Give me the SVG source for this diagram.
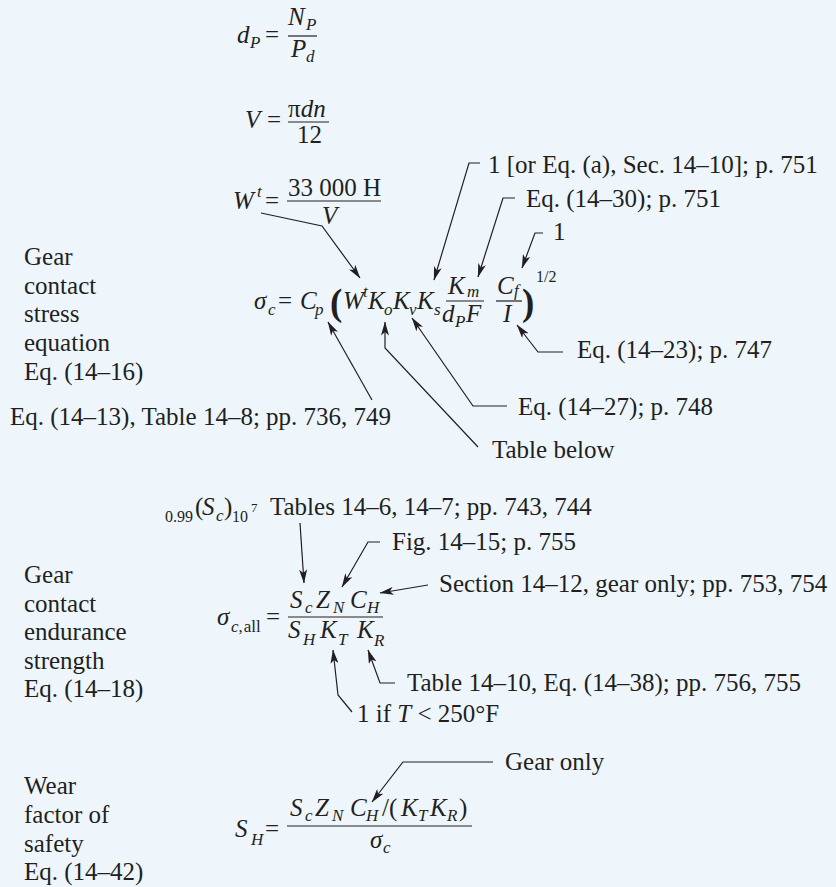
<svg xmlns="http://www.w3.org/2000/svg" width="836" height="887" viewBox="0 0 836 887">
<style>
.t{font-family:"Liberation Serif","Times New Roman",serif;font-size:25px;fill:#231f20}
.m{font-style:italic}
.sb{font-size:17px}
.sm{font-size:16px}
.xs{font-size:13px}
.big{font-size:37px}
.bar{stroke:#231f20;stroke-width:1.2}
.ld{fill:none;stroke:#231f20;stroke-width:1.2;marker-end:url(#ah)}
</style>
<defs>
<marker id="ah" viewBox="0 0 14 8" refX="13.5" refY="4" markerWidth="14" markerHeight="8" markerUnits="userSpaceOnUse" orient="auto">
<path d="M0,0 L14,4 L0,8 L3.5,4 z" fill="#231f20"/>
</marker>
</defs>
<rect width="836" height="887" fill="#eef6fc"/>

<g id="eq-dp">
<text class="t m" x="237" y="43">d</text><text class="t m sb" x="250" y="48">P</text>
<text class="t" x="265" y="43">=</text>
<text class="t m" x="288" y="25">N</text><text class="t m sb" x="306" y="30">P</text>
<line class="bar" x1="288" y1="36" x2="317" y2="36"/>
<text class="t m" x="291" y="57">P</text><text class="t m sb" x="306" y="62">d</text>
</g>

<g id="eq-v">
<text class="t m" x="245" y="128">V</text>
<text class="t" x="267" y="128">=</text>
<text class="t" x="288" y="117">π<tspan class="m">dn</tspan></text>
<line class="bar" x1="288" y1="122" x2="329" y2="122"/>
<text class="t" x="297" y="143">12</text>
</g>

<g id="eq-wt">
<text class="t m" x="233" y="209">W</text><text class="t m sb" x="257" y="197">t</text>
<text class="t" x="265" y="209">=</text>
<text class="t" x="288" y="196">33 000 H</text>
<line class="bar" x1="287" y1="201" x2="381" y2="201"/>
<text class="t m" x="322" y="224">V</text>
</g>

<g id="eq-contact-stress">
<text class="t m" x="254" y="309">σ</text><text class="t m sb" x="268" y="315">c</text>
<text class="t" x="278" y="309">=</text>
<text class="t m" x="300" y="309">C</text><text class="t m sb" x="315" y="315">p</text>
<text class="t big" x="330" y="315" font-weight="bold">(</text>
<text class="t m" x="343" y="309">W</text><text class="t m sb" x="363" y="297">t</text>
<text class="t m" x="368" y="309">K</text><text class="t m sb" x="384" y="315">o</text>
<text class="t m" x="393" y="309">K</text><text class="t m sb" x="409" y="315">v</text>
<text class="t m" x="417" y="309">K</text><text class="t m sb" x="434" y="315">s</text>
<text class="t m" x="448" y="294">K</text><text class="t m sb" x="467" y="297">m</text>
<line class="bar" x1="446" y1="301" x2="484" y2="301"/>
<text class="t m" x="442" y="322">d</text><text class="t m sb" x="455" y="327">P</text><text class="t m" x="466" y="322">F</text>
<text class="t m" x="497" y="294">C</text><text class="t m sb" x="514" y="296">f</text>
<line class="bar" x1="496" y1="301" x2="522" y2="301"/>
<text class="t m" x="503" y="322">I</text>
<text class="t big" x="522" y="315" font-weight="bold">)</text>
<text class="t sm" x="536" y="282">1/2</text>
</g>

<g id="label-contact-stress">
<text class="t" x="24" y="265">Gear</text>
<text class="t" x="24" y="293.7">contact</text>
<text class="t" x="24" y="322.4">stress</text>
<text class="t" x="24" y="351.1">equation</text>
<text class="t" x="24" y="379.8">Eq. (14–16)</text>
</g>

<g id="note-ks"><text class="t" x="488" y="173">1 [or Eq. (a), Sec. 14–10]; p. 751</text></g>
<g id="note-km"><text class="t" x="526" y="207">Eq. (14–30); p. 751</text></g>
<g id="note-cf"><text class="t" x="553" y="240">1</text></g>
<g id="note-i"><text class="t" x="577" y="358">Eq. (14–23); p. 747</text></g>
<g id="note-kv"><text class="t" x="518" y="415">Eq. (14–27); p. 748</text></g>
<g id="note-ko"><text class="t" x="492" y="458">Table below</text></g>
<g id="note-cp"><text class="t" x="10" y="425">Eq. (14–13), Table 14–8; pp. 736, 749</text></g>

<g id="note-sc">
<text class="t sm" x="165" y="522">0.99</text>
<text class="t" x="195" y="515">(</text>
<text class="t m" x="202" y="515">S</text><text class="t m sb" x="216" y="521">c</text>
<text class="t" x="224" y="515">)</text>
<text class="t sm" x="232" y="522">10</text>
<text class="t xs" x="251" y="512">7</text>
<text class="t" x="270" y="515">Tables 14–6, 14–7; pp. 743, 744</text>
</g>
<g id="note-zn"><text class="t" x="392" y="550">Fig. 14–15; p. 755</text></g>
<g id="note-ch"><text class="t" x="439" y="592">Section 14–12, gear only; pp. 753, 754</text></g>
<g id="note-kr"><text class="t" x="407" y="691">Table 14–10, Eq. (14–38); pp. 756, 755</text></g>
<g id="note-kt"><text class="t" x="357" y="722">1 if <tspan class="m">T</tspan> &lt; 250°F</text></g>

<g id="eq-endurance">
<text class="t m" x="217" y="625">σ</text><text class="t sb" x="231" y="632"><tspan class="m">c</tspan>,<tspan dx="1">all</tspan></text>
<text class="t" x="266" y="625">=</text>
<text class="t m" x="290" y="608">S</text><text class="t m sb" x="305" y="613">c</text>
<text class="t m" x="316" y="608">Z</text><text class="t m sb" x="333" y="613">N</text>
<text class="t m" x="350" y="608">C</text><text class="t m sb" x="367" y="613">H</text>
<line class="bar" x1="288" y1="617" x2="383" y2="617"/>
<text class="t m" x="288" y="638">S</text><text class="t m sb" x="303" y="645">H</text>
<text class="t m" x="320" y="638">K</text><text class="t m sb" x="338" y="645">T</text>
<text class="t m" x="357" y="638">K</text><text class="t m sb" x="374" y="646">R</text>
</g>

<g id="label-endurance">
<text class="t" x="24" y="583">Gear</text>
<text class="t" x="24" y="611.5">contact</text>
<text class="t" x="24" y="640">endurance</text>
<text class="t" x="24" y="668.5">strength</text>
<text class="t" x="24" y="697">Eq. (14–18)</text>
</g>

<g id="eq-safety">
<text class="t m" x="235" y="837">S</text><text class="t m sb" x="251" y="845">H</text>
<text class="t" x="265" y="837">=</text>
<text class="t m" x="290" y="816">S</text><text class="t m sb" x="305" y="821">c</text>
<text class="t m" x="315" y="816">Z</text><text class="t m sb" x="332" y="821">N</text>
<text class="t m" x="350" y="816">C</text><text class="t m sb" x="366" y="821">H</text>
<text class="t" x="382" y="816">/(</text>
<text class="t m" x="401" y="816">K</text><text class="t m sb" x="418" y="821">T</text>
<text class="t m" x="430" y="816">K</text><text class="t m sb" x="447" y="821">R</text>
<text class="t" x="459" y="816">)</text>
<line class="bar" x1="287" y1="826" x2="472" y2="826"/>
<text class="t m" x="370" y="848">σ</text><text class="t m sb" x="383" y="853">c</text>
</g>

<g id="label-safety">
<text class="t" x="24" y="794">Wear</text>
<text class="t" x="24" y="823">factor of</text>
<text class="t" x="24" y="852">safety</text>
<text class="t" x="24" y="880">Eq. (14–42)</text>
</g>
<g id="note-gear-only"><text class="t" x="505" y="770">Gear only</text></g>

<g id="connectors">
<polyline class="ld" points="261,213 322,226 360,278"/>
<polyline class="ld" points="480,163 469,163 434,280"/>
<polyline class="ld" points="515,198 503,198 478,277"/>
<polyline class="ld" points="543,233 535,233 522,268"/>
<polyline class="ld" points="563,352 538,352 517,325"/>
<polyline class="ld" points="507,406 473,406 412,318"/>
<polyline class="ld" points="478,447 385,348 385,322"/>
<polyline class="ld" points="372,400 328,322"/>
<polyline class="ld" points="300,523 304,583"/>
<polyline class="ld" points="380,542 368,542 342,587"/>
<polyline class="ld" points="428,585 380,593"/>
<polyline class="ld" points="395,683 380,683 368,650"/>
<polyline class="ld" points="352,712 338,695 333,650"/>
<polyline class="ld" points="493,762 403,762 372,802"/>
</g>
</svg>
